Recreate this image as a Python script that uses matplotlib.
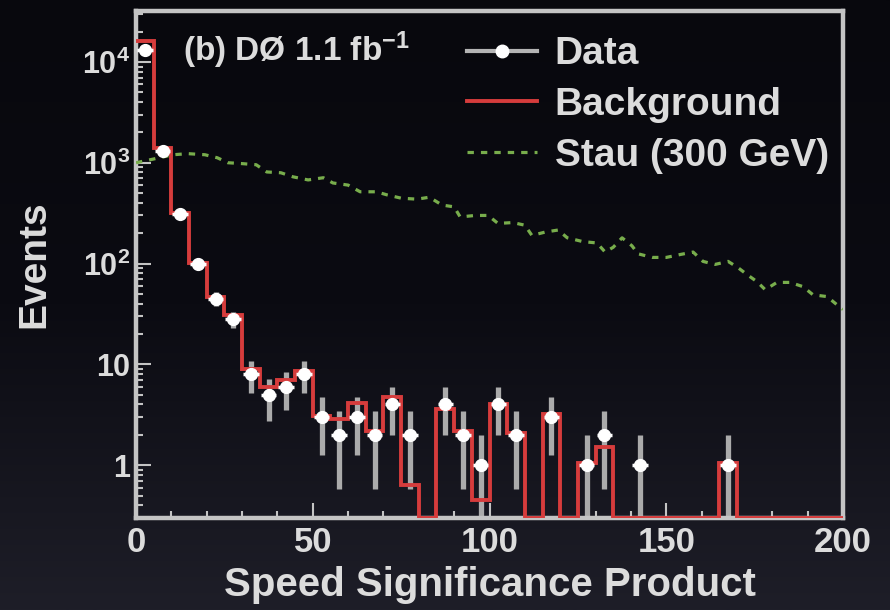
import numpy as np
import matplotlib
matplotlib.use("Agg")
import matplotlib.pyplot as plt
from matplotlib.lines import Line2D
from matplotlib.ticker import FixedLocator, FixedFormatter, NullFormatter

plt.rcParams['font.family'] = ['Liberation Sans', 'DejaVu Sans']
plt.rcParams['font.weight'] = 'bold'
plt.rcParams['axes.labelweight'] = 'bold'
plt.rcParams['mathtext.fontset'] = 'custom'
plt.rcParams['mathtext.rm'] = 'Liberation Sans:bold'
plt.rcParams['mathtext.default'] = 'regular'

# speed significance product histogram, 5-unit bins from 0 to 200
edges = np.arange(0, 205, 5)
centers = edges[:-1] + 2.5

data_counts = np.array([13000, 1300, 310, 98, 45, 28, 8, 5, 6, 8,
                        3, 2, 3, 2, 4, 2, 0, 4, 2, 1,
                        4, 2, 0, 3, 0, 1, 2, 0, 1, 0,
                        0, 0, 0, 1, 0, 0, 0, 0, 0, 0])
background = np.array([16000, 1400, 320, 102, 47, 31, 9, 6, 7, 8.5,
                       3.1, 2.9, 4.1, 2.2, 4.7, 0.63, 0, 3.6, 2.2, 0.45,
                       4.0, 2.1, 0, 3.2, 0, 1.05, 1.5, 0, 0, 0,
                       0, 0, 0, 1.05, 0, 0, 0, 0, 0, 0])

# 300 GeV stau signal shape
stau_x = [0, 4, 10.5, 14.7, 19.5, 23, 26, 30, 34, 37, 41, 44.4, 48.7, 53, 55.7,
          60, 63.4, 68, 71, 75, 79.5, 83, 86.6, 90, 91.7, 96, 99.6, 102.4, 106.6,
          110, 112, 115.7, 119.4, 122, 126.4, 130.4, 132.7, 135, 137.5, 140.3,
          142, 146, 150, 154, 157.6, 160.4, 163.8, 167.5, 170.3, 172.8, 175.7,
          178, 181.3, 185, 188.7, 191.5, 195.5, 198.3, 200]
stau_y = [1000, 1070, 1200, 1230, 1200, 1120, 1000, 980, 955, 810, 795, 725, 675,
          710, 630, 600, 515, 515, 480, 445, 435, 455, 380, 365, 290, 300, 300,
          250, 255, 240, 190, 205, 215, 180, 165, 160, 130, 145, 180, 150, 125,
          115, 115, 123, 130, 105, 98, 105, 91, 78, 66, 55, 65, 65, 59, 49, 47,
          39, 35]

ymin, ymax = 0.3, 3.2e4
fg = '#dcdcdc'
frame = '#c4c4c4'
red = '#d63c3c'
green = '#78ad4c'

fig = plt.figure(figsize=(8.9, 6.1), dpi=100)

# dark slide background, a little lighter towards the bottom
bg_ax = fig.add_axes([0, 0, 1, 1], zorder=-10)
grad = np.linspace(0, 1, 256)[:, None]
bg_ax.imshow(grad, aspect='auto', cmap=matplotlib.colors.LinearSegmentedColormap.from_list(
    'slide', ['#08080d', '#0b0b12', '#1e1e28']), extent=[0, 1, 0, 1], origin='upper')
bg_ax.axis('off')

ax = fig.add_axes([0.1528, 0.151, 0.7944, 0.831])
ax.set_facecolor('none')
ax.set_yscale('log')

# data points with poisson errors
has_data = data_counts > 0
n = data_counts[has_data]
xc = centers[has_data]
lo = n - np.maximum(n - np.sqrt(n), ymin)
hi = np.sqrt(n)
ax.errorbar(xc, n, yerr=[lo, hi], fmt='none', ecolor='#ababab', elinewidth=3.8, zorder=2)

# expected background
ax.stairs(np.maximum(background, ymin), edges, baseline=None, color=red, lw=2.8, zorder=3)

ax.errorbar(xc, n, xerr=2.2, fmt='o', color='white', ms=8.5, elinewidth=2.5, zorder=4)

ax.plot(stau_x, stau_y, color=green, lw=2.3, ls=(0, (2, 2.2)), zorder=3)

ax.set_xlim(0, 200)
ax.set_ylim(ymin, ymax)

ax.xaxis.set_major_locator(FixedLocator([0, 50, 100, 150, 200]))
ax.xaxis.set_minor_locator(FixedLocator(np.arange(0, 201, 10)))
ax.yaxis.set_major_locator(FixedLocator([1, 10, 100, 1000, 10000]))
ax.yaxis.set_major_formatter(FixedFormatter(['1', '10', r'$10^2$', r'$10^3$', r'$10^4$']))
minor = [m * 10.0 ** e for e in range(-1, 5) for m in range(2, 10)]
ax.yaxis.set_minor_locator(FixedLocator(minor))
ax.yaxis.set_minor_formatter(NullFormatter())

ax.tick_params(which='both', direction='in', colors=frame, labelcolor=fg, width=1.5)
ax.tick_params(which='major', length=11)
ax.tick_params(which='minor', length=5)
ax.tick_params(axis='x', labelsize=25, pad=6)
ax.tick_params(axis='y', labelsize=22, pad=4)
for s in ax.spines.values():
    s.set_color(frame)
    s.set_linewidth(3.2)

ax.set_xlabel('Speed Significance Product', fontsize=29, color=fg)
ax.xaxis.set_label_coords(0.5, -0.095)
ax.set_ylabel('Events', fontsize=28, color=fg)
ax.yaxis.set_label_coords(-0.118, 0.5)

ax.text(0.066, 0.923, r'(b) DØ 1.1 fb$^{-1}$', transform=ax.transAxes, fontsize=24,
        color=fg, va='center', ha='left')

handles = [Line2D([], [], color='#b4b4b4', lw=3, marker='o', mfc='white', mec='white', ms=9),
           Line2D([], [], color=red, lw=2.8),
           Line2D([], [], color=green, lw=2.3, ls=(0, (2, 2.2)))]
leg = ax.legend(handles, ['Data', 'Background', 'Stau (300 GeV)'], loc='upper left',
                bbox_to_anchor=(0.468, 0.95), frameon=False, fontsize=28,
                borderpad=0, borderaxespad=0,
                handlelength=1.8, handletextpad=0.46, labelspacing=0.38, labelcolor=fg)

fig.savefig('out.png', dpi=100, facecolor=fig.get_facecolor())
